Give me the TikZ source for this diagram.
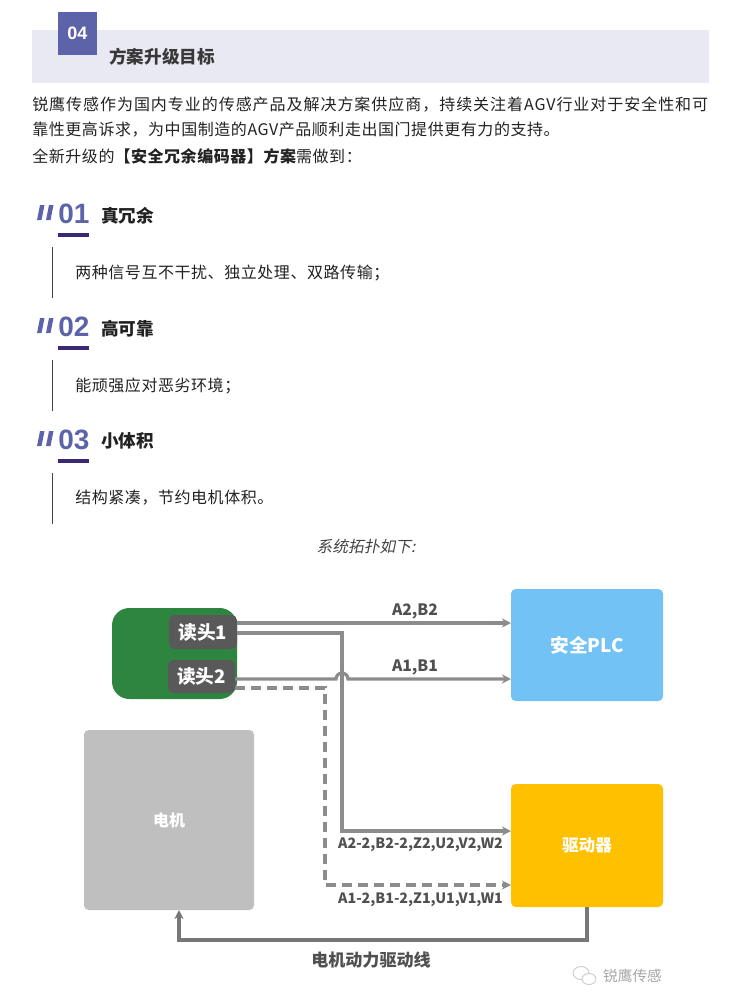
\documentclass[tikz,border=0pt]{standalone}
\usepackage{fontspec}
\setmainfont{Noto Sans CJK SC}
\newfontfamily\spacedfont[LetterSpace=6]{Noto Sans CJK SC}
\newfontfamily\tightfont[LetterSpace=3.5]{Noto Sans CJK SC}
\newfontfamily\slantfont[FakeSlant=0.2]{Noto Sans CJK SC}
\newfontfamily\numfont{Liberation Sans}
\usepackage{xcolor}
\usepackage{tikz}
\usetikzlibrary{arrows.meta,positioning,calc}
\definecolor{accent}{HTML}{5D63A9}
\definecolor{deep}{HTML}{3B2A73}
\definecolor{band}{HTML}{E9E9F4}
\definecolor{ink}{HTML}{222222}
\definecolor{wire}{HTML}{8C8C8C}
\definecolor{chip}{HTML}{595959}
\definecolor{housing}{HTML}{2E8540}
\definecolor{plcblue}{HTML}{73C2F5}
\definecolor{amber}{HTML}{FFC000}
\definecolor{motorgray}{HTML}{BFBFBF}
\tikzset{
  vbody/.style={anchor=west,inner sep=0pt,text=ink,font=\fontsize{12pt}{14pt}\tightfont},
  vnum/.style={anchor=west,inner sep=0pt,text=accent,font=\fontsize{21pt}{24pt}\numfont\bfseries},
  vhead/.style={anchor=west,inner sep=0pt,text=ink,font=\fontsize{13.2pt}{15pt}\bfseries},
  vunit/.style={fill=#1,rounded corners=3.5pt,inner sep=0pt,text=white,font=\fontsize{14pt}{16pt}\bfseries},
  vchip/.style={fill=chip,rounded corners=4pt,inner sep=0pt,text=white,font=\fontsize{14pt}{16pt}\bfseries},
  vtag/.style={inner sep=0pt,text=chip!90!black,font=\fontsize{10.7pt}{13pt}\bfseries},
  varr/.style={-{Stealth[length=2.4mm,width=2.4mm]},line width=2.4pt,draw=wire},
  vdash/.style={varr,dash pattern=on 7.5pt off 4.5pt},
  vslash/.style={fill=accent},
  vrule/.style={line width=0.6pt,draw=black!75}
}
\begin{document}
\begin{tikzpicture}[x=0.75pt,y=-0.75pt]
  \useasboundingbox (0,0) rectangle (739,999);
  % header
  \fill[band] (32,30) rectangle (709,83);
  \node[fill=accent,minimum width=29.25pt,minimum height=32.25pt,inner sep=0pt,text=white,font=\fontsize{13.5pt}{14pt}\numfont\bfseries] (badge) at (77.5,33.5) {04};
  \node[vhead,text=ink!90] (title) at (109,57) {方案升级目标};
  \node[vbody,font=\fontsize{12pt}{14pt}\spacedfont] (line1) at (32,105) {锐鹰传感作为国内专业的传感产品及解决方案供应商，持续关注着AGV行业对于安全性和可};
  \node[vbody] (line2) at (32,130) {靠性更高诉求，为中国制造的AGV产品顺利走出国门提供更有力的支持。};
  \node[vbody] (line3) at (32,156) {全新升级的{\bfseries 【安全冗余编码器】方案}需做到：};

  % three goals
  \path[vslash] (40,205) -- (44.5,205) -- (41.5,220) -- (37,220) -- cycle;
  \path[vslash] (49,205) -- (53.5,205) -- (50.5,220) -- (46,220) -- cycle;
  \node[vnum] (n1) at (58,214) {01};
  \fill[deep] (58,233) rectangle (89,236.5);
  \node[vhead] (h1) at (101,216) {真冗余};
  \draw[vrule] (52,247) -- (52,298);
  \node[vbody] (t1) at (75,273) {两种信号互不干扰、独立处理、双路传输；};

  \path[vslash] (40,318) -- (44.5,318) -- (41.5,333) -- (37,333) -- cycle;
  \path[vslash] (49,318) -- (53.5,318) -- (50.5,333) -- (46,333) -- cycle;
  \node[vnum] (n2) at (58,327) {02};
  \fill[deep] (58,346) rectangle (89,349.5);
  \node[vhead] (h2) at (101,329) {高可靠};
  \draw[vrule] (52,360) -- (52,411);
  \node[vbody] (t2) at (75,386) {能顽强应对恶劣环境；};

  \path[vslash] (40,431) -- (44.5,431) -- (41.5,446) -- (37,446) -- cycle;
  \path[vslash] (49,431) -- (53.5,431) -- (50.5,446) -- (46,446) -- cycle;
  \node[vnum] (n3) at (58,440) {03};
  \fill[deep] (58,459) rectangle (89,462.5);
  \node[vhead] (h3) at (101,441) {小体积};
  \draw[vrule] (52,473) -- (52,524);
  \node[vbody] (t3) at (75,498) {结构紧凑，节约电机体积。};

  \node[inner sep=0pt,text=ink!85,font=\fontsize{11.8pt}{13pt}\slantfont] (cap) at (366,546) {系统拓扑如下:};

  % topology
  \node[fill=housing,rounded corners=13pt,minimum width=93.75pt,minimum height=68.25pt] (encoder) at (174.5,653.5) {};
  \node[vchip,minimum width=51pt,minimum height=25.5pt] (head1) at (203,632) {读头1};
  \node[vchip,minimum width=50.25pt,minimum height=24.75pt] (head2) at (201.5,676.5) {读头2};
  \node[vunit=plcblue,minimum width=114pt,minimum height=84pt] (plc) at (587,645) {安全PLC};
  \node[vunit=amber,font=\fontsize{12.5pt}{15pt}\bfseries,minimum width=114pt,minimum height=92.25pt] (drive) at (587,845.5) {驱动器};
  \node[vunit=motorgray,font=\fontsize{12pt}{15pt}\bfseries,minimum width=127.5pt,minimum height=135pt] (motor) at (169,820) {电机};

  \coordinate (a2out) at (237,623);
  \coordinate (a22out) at (237,633);
  \coordinate (a1out) at (235,679);
  \coordinate (a12out) at (235,688);
  \coordinate (a22in) at (511,831);
  \coordinate (a12in) at (511,885);
  \coordinate (a2in) at (511,623);
  \coordinate (a1in) at (511,679);

  \draw[varr] (a2out) -- (a2in);
  \draw[varr] (a22out) -- (342,633) -- (342,831) -- (a22in);
  \draw[varr] (a1out) -- (336,679) arc (180:360:6) -- (a1in);
  \draw[vdash] (a12out) -- (325,688) -- (325,885) -- (a12in);
  \draw[varr,draw=wire!85!black] (drive.south) -- (587,940) -- (179,940) -- (179,910);

  \node[vtag,font=\fontsize{11.8pt}{13pt}\bfseries] (l1) at (415,611) {A2,B2};
  \node[vtag,font=\fontsize{11.8pt}{13pt}\bfseries] (l2) at (415,667) {A1,B1};
  \node[vtag] (l3) at (420.5,845) {A2-2,B2-2,Z2,U2,V2,W2};
  \node[vtag] (l4) at (420.5,900) {A1-2,B1-2,Z1,U1,V1,W1};
  \node[vtag,font=\fontsize{12.8pt}{14pt}\bfseries] (l5) at (371,960) {电机动力驱动线};

  % watermark
  \draw[gray!40,fill=white,line width=0.7pt] (581,973) ellipse (8 and 6.5);
  \draw[gray!40,fill=white,line width=0.7pt] (589,979) ellipse (7 and 5.5);
  \node[inner sep=0pt,text=gray!70,font=\fontsize{11pt}{13pt}\selectfont] (mark) at (632.5,976) {锐鹰传感};
\end{tikzpicture}
\end{document}
